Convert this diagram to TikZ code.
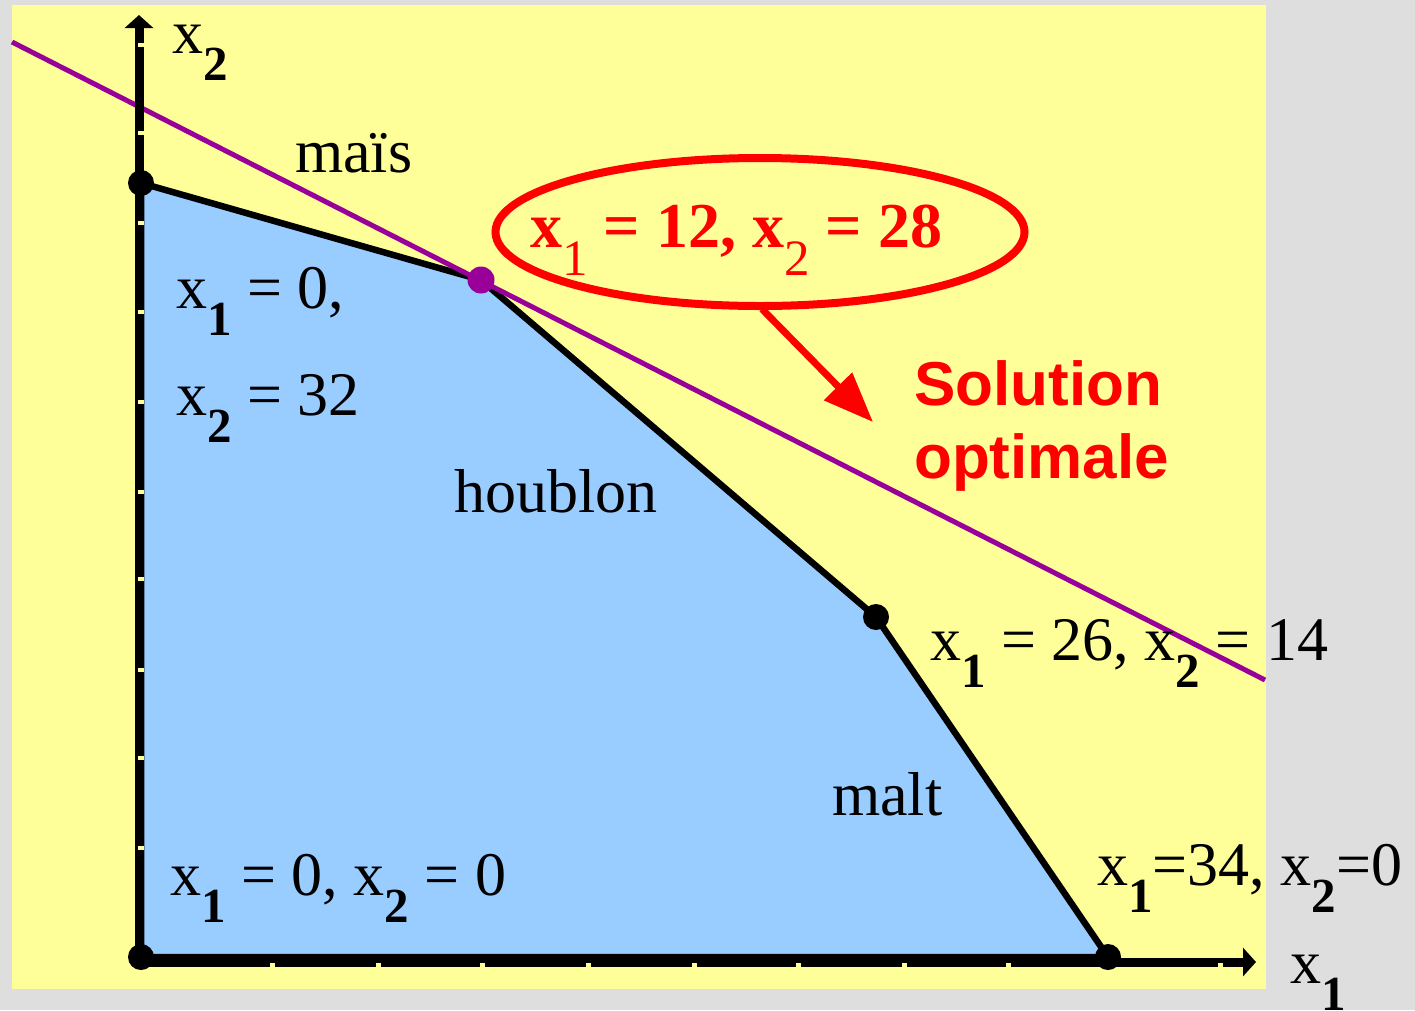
\documentclass[tikz,border=0pt]{standalone}
\usepackage{fontspec}
\setmainfont{Liberation Serif}
\newfontfamily\solfont{Liberation Sans}
\usetikzlibrary{arrows.meta,shapes.geometric}
\definecolor{bggray}{HTML}{DEDEDE}
\definecolor{paper}{HTML}{FFFF99}
\definecolor{region}{HTML}{99CCFF}
\definecolor{isoline}{HTML}{990099}
\definecolor{hot}{HTML}{FF0000}
\newcommand{\sbk}[1]{\raisebox{-0.45em}{\fontsize{49}{49}\selectfont\bfseries #1}}
\newcommand{\sbr}[1]{\raisebox{-0.45em}{\fontsize{51}{51}\selectfont\mdseries #1}}
\tikzset{
  lab/.style={anchor=base west, inner sep=0pt, font=\fontsize{62}{70}\selectfont},
  redlab/.style={anchor=base west, inner sep=0pt, text=hot, font=\fontsize{64}{72}\selectfont\bfseries},
  sollab/.style={anchor=base west, inner sep=0pt, text=hot, font=\fontsize{62}{72}\selectfont\solfont\bfseries},
  vertex/.style={circle, fill=black, inner sep=0pt, minimum size=26pt},
  optvertex/.style={circle, fill=isoline, inner sep=0pt, minimum size=27pt},
  notch/.style={fill=paper, draw=none},
  axisline/.style={line width=9pt, draw=black, -{Triangle[length=13pt,width=28pt]}},
}
\begin{document}
\begin{tikzpicture}[x=1pt,y=-1pt]
\useasboundingbox (0,0) rectangle (1415,1010);
\fill[bggray] (0,0) rectangle (1415,1010);
\fill[paper] (12,5) rectangle (1266,989);

% vertices
\coordinate (v0) at (141,957);
\coordinate (v1) at (141,183);
\coordinate (v2) at (481,280);
\coordinate (v3) at (876,617);
\coordinate (v4) at (1108,957);

% feasible region
\filldraw[fill=region, draw=black, line width=6.5pt, line join=round]
  (v0) -- (v1) -- (v2) -- (v3) -- (v4) -- cycle;

% iso-profit line
\coordinate (L1) at (12,42);
\coordinate (L2) at (1265,680);
\draw[isoline, line width=5pt] (L1) -- (L2);

% axes
\coordinate (Oy) at (139,967);
\coordinate (Ox) at (134,962);
\coordinate (ytip) at (139,15);
\coordinate (xtip) at (1256,962);
\draw[axisline] (Oy) -- (ytip);
\draw[axisline] (Ox) -- (xtip);

% tick notches
\foreach \tx in {272,378,482,588,694,798,904,1008,1220}
  \fill[notch] (\tx-2.5,963) rectangle (\tx+2.5,969);
\foreach \ty in {45,133,223,312,402,492,579,670,758,848}
  \fill[notch] (138,\ty-2) rectangle (144,\ty+2);

% vertex dots
\node[vertex] (d0) at (v0) {};
\node[vertex] (d1) at (v1) {};
\node[optvertex] (d2) at (v2) {};
\node[vertex] (d3) at (v3) {};
\node[vertex] (d4) at (v4) {};

% labels
\node[lab] (ax2) at (172,53) {x\sbk{2}};
\node[lab] (ax1) at (1290,983) {x\sbk{1}};
\node[lab] (mais) at (295,172) {maïs};
\node[lab] (p1a) at (176,308) {x\sbk{1} = 0,};
\node[lab] (p1b) at (176,415) {x\sbk{2} = 32};
\node[lab] (houb) at (454,512) {houblon};
\node[lab] (p3) at (930,660) {x\sbk{1} = 26, x\sbk{2} = 14};
\node[lab] (malt) at (832,815) {malt};
\node[lab] (p0) at (170,895) {x\sbk{1} = 0, x\sbk{2} = 0};
\node[lab] (p4) at (1097,885) {x\sbk{1}=34, x\sbk{2}=0};

% optimum callout
\node[draw=hot, line width=8pt, ellipse, inner sep=0pt,
      minimum width=529pt, minimum height=148pt] (callout) at (760,232) {};
\node[redlab] (opttxt) at (530,247) {x\sbr{1} = 12, x\sbr{2} = 28};
\coordinate (a1) at (762,309);
\coordinate (a2) at (873,422);
\draw[hot, line width=7pt, -{Triangle[length=50pt,width=38pt]}] (a1) -- (a2);
\node[sollab] (sol1) at (914,405) {Solution};
\node[sollab] (sol2) at (914,478) {optimale};
\end{tikzpicture}
\end{document}
